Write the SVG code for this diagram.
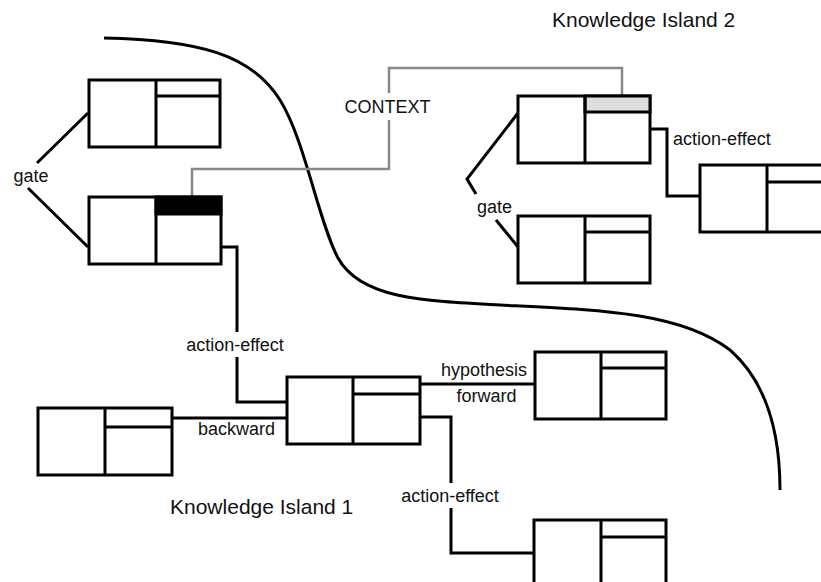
<svg xmlns="http://www.w3.org/2000/svg" width="821" height="582" viewBox="0 0 821 582">
<style>
.box{fill:#fff;stroke:#000;stroke-width:3}
.ln{fill:none;stroke:#000;stroke-width:3}
.cx{fill:none;stroke:#888;stroke-width:2.5}
.lbl{font-family:"Liberation Sans",Arial,sans-serif;font-size:18px;fill:#111}
.ttl{font-family:"Liberation Sans",Arial,sans-serif;font-size:21px;fill:#111}
</style>
<rect width="821" height="582" fill="#fff"/>
<path class="ln" d="M104,38 C200,40 252,55 280,100 C305,140 318,220 338,258 C360,298 420,301 500,305 C600,310 680,312 730,350 C770,385 780,440 780,490"/>
<g id="connectors">
<path class="ln" d="M88,113 L37,163 M28,188 L88,247"/>
<path class="cx" d="M192,197 V169 H389 V120 M389,93 V68 H622 V96"/>
<path class="ln" d="M221,247 H237 V332 M237,357 V402 H287"/>
<path class="ln" d="M172,418 H287"/>
<path class="ln" d="M420,384 H535"/>
<path class="ln" d="M420,417 H451 V483 M451,508 V553 H534"/>
<path class="ln" d="M518,113 L467,179 L476,194 M496,220 L518,247"/>
<path class="ln" d="M650,129 H667 V196 H700"/>
</g>
<g id="nodeA"><rect class="box" x="89" y="80" width="131" height="67"/><path class="ln" d="M156,80 V147 M156,96 H220"/></g>
<g id="nodeB"><rect class="box" x="89" y="197" width="132" height="67"/><rect x="156" y="197" width="65" height="17" fill="#000" stroke="#000" stroke-width="3"/><path class="ln" d="M156,197 V264"/></g>
<g id="nodeC"><rect class="box" x="518" y="96" width="132" height="67"/><rect x="585" y="96" width="65" height="16" fill="#ddd" stroke="#000" stroke-width="3"/><path class="ln" d="M585,96 V163"/></g>
<g id="nodeD"><rect class="box" x="518" y="216" width="132" height="67"/><path class="ln" d="M585,216 V283 M585,232 H650"/></g>
<g id="nodeE"><rect class="box" x="700" y="165" width="132" height="67"/><path class="ln" d="M767,165 V232 M767,182 H832"/></g>
<g id="nodeF"><rect class="box" x="287" y="377" width="133" height="67"/><path class="ln" d="M353,377 V444 M353,394 H420"/></g>
<g id="nodeG"><rect class="box" x="38" y="408" width="134" height="67"/><path class="ln" d="M105,408 V475 M105,427 H172"/></g>
<g id="nodeH"><rect class="box" x="535" y="352" width="131" height="67"/><path class="ln" d="M601,352 V419 M601,368 H666"/></g>
<g id="nodeI"><rect class="box" x="534" y="520" width="132" height="67"/><path class="ln" d="M601,520 V587 M601,537 H666"/></g>
<g id="labels">
<text class="lbl" x="31" y="182" text-anchor="middle">gate</text>
<text class="lbl" x="494.5" y="213" text-anchor="middle">gate</text>
<text class="lbl" x="387.5" y="113" text-anchor="middle">CONTEXT</text>
<text class="lbl" x="673" y="145">action-effect</text>
<text class="lbl" x="235" y="351" text-anchor="middle">action-effect</text>
<text class="lbl" x="450" y="502" text-anchor="middle">action-effect</text>
<text class="lbl" x="236.5" y="435" text-anchor="middle">backward</text>
<text class="lbl" x="484" y="376" text-anchor="middle">hypothesis</text>
<text class="lbl" x="486.5" y="402" text-anchor="middle">forward</text>
<text class="ttl" x="552" y="27">Knowledge Island 2</text>
<text class="ttl" x="170" y="514">Knowledge Island 1</text>
</g>
</svg>
